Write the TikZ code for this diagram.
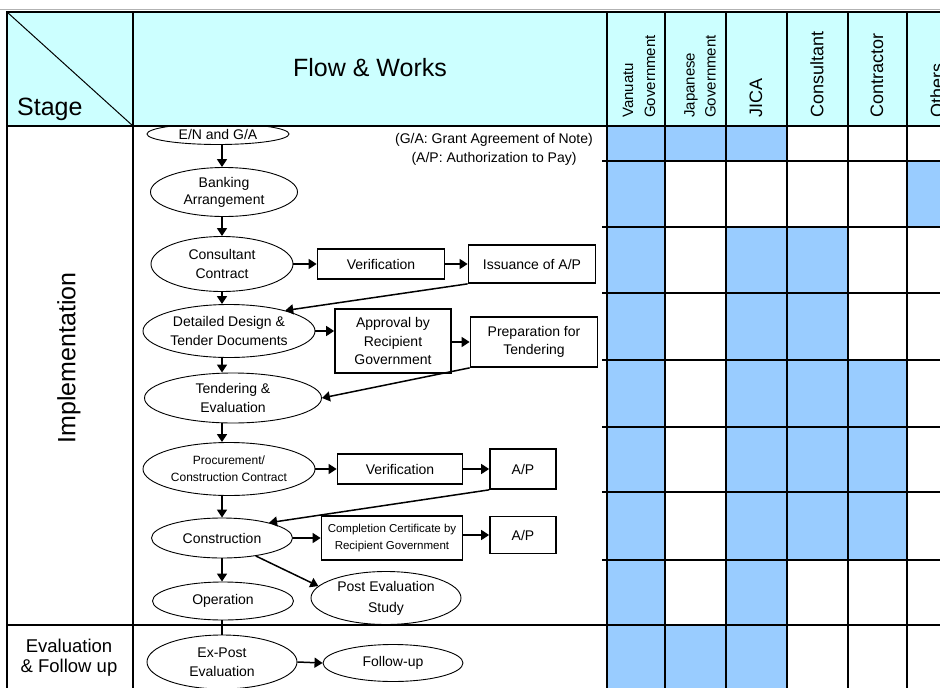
\documentclass[tikz,border=0pt]{standalone}
\usepackage{fontspec}
\setmainfont{Liberation Sans}
\usetikzlibrary{shapes.geometric,arrows.meta}
\definecolor{hdrcyan}{HTML}{CCFFFF}
\definecolor{cellblue}{HTML}{99CCFF}
\newcommand\flowfont{\fontsize{14}{18.5}\selectfont}
\newcommand\smallflow{\fontsize{12}{17}\selectfont}
\newcommand\tinyflow{\fontsize{11.5}{16.5}\selectfont}
\begin{document}
\begin{tikzpicture}[x=1pt,y=-1pt,
  ell/.style={ellipse,draw,line width=0.9pt,fill=white,inner sep=0pt,align=center,font=\flowfont},
  box/.style={rectangle,draw,line width=1.7pt,fill=white,inner sep=0pt,align=center,font=\flowfont},
  arr/.style={line width=1.5pt,-{Triangle[length=8pt,width=10pt]}},
  grid/.style={line width=1.6pt,line cap=rect},
  hdrtext/.style={inner sep=0pt,align=center},
  colhead/.style={inner sep=0pt,rotate=90,anchor=west,align=left}]
\useasboundingbox (0,0) rectangle (940,688);
\clip (0,0) rectangle (940,688);

% blue cells
\fill[cellblue] (607,126) rectangle (665,688);
\fill[cellblue] (665,126) rectangle (726,161);
\fill[cellblue] (665,625) rectangle (726,688);
\fill[cellblue] (726,126) rectangle (787,161);
\fill[cellblue] (726,227) rectangle (787,688);
\fill[cellblue] (787,227) rectangle (848,560);
\fill[cellblue] (848,360) rectangle (907,560);
\fill[cellblue] (907,161) rectangle (940,227);

% flow nodes
\coordinate (spine) at (222,300);
\node[ell,minimum width=142pt,minimum height=21pt] (en) at (218,134) {E/N and G/A};
\node[ell,minimum width=147pt,minimum height=49pt,font=\fontsize{14}{17}\selectfont] (bank) at (224,192) {Banking\\Arrangement};
\node[ell,minimum width=142pt,minimum height=55pt] (cc) at (222,264) {Consultant\\Contract};
\node[box,minimum width=127pt,minimum height=30pt] (ver1) at (381,264) {Verification};
\node[box,minimum width=127pt,minimum height=38pt] (iss) at (532,264) {Issuance of A/P};
\node[ell,minimum width=172pt,minimum height=53pt] (dd) at (229,331) {Detailed Design \&\\Tender Documents};
\node[box,minimum width=116pt,minimum height=64pt] (appr) at (393,341) {Approval by\\Recipient\\Government};
\node[box,minimum width=127pt,minimum height=50pt] (prep) at (534,342) {Preparation for\\Tendering};
\node[ell,minimum width=177pt,minimum height=50pt] (tend) at (233,398) {Tendering \&\\Evaluation};
\node[ell,minimum width=172pt,minimum height=53pt,font=\smallflow] (proc) at (229,469) {Procurement/\\Construction Contract};
\node[box,minimum width=125pt,minimum height=30pt] (ver2) at (400,469) {Verification};
\node[box,minimum width=66pt,minimum height=40pt] (ap1) at (523,469) {A/P};
\node[ell,minimum width=141pt,minimum height=40pt] (cons) at (222,538) {Construction};
\node[box,minimum width=141pt,minimum height=44pt,font=\tinyflow] (comp) at (392,538) {Completion Certificate by\\Recipient Government};
\node[box,minimum width=66pt,minimum height=37pt] (ap2) at (523,535) {A/P};
\node[ell,minimum width=141pt,minimum height=38pt] (op) at (223,601) {Operation};
\node[ell,minimum width=150pt,minimum height=53pt,font=\fontsize{14}{21}\selectfont] (post) at (386,598) {Post Evaluation\\Study};
\node[ell,minimum width=150pt,minimum height=54pt] (ex) at (222,662) {Ex-Post\\Evaluation};
\node[ell,minimum width=140pt,minimum height=37pt] (fol) at (393,663) {Follow-up};

\node[hdrtext,font=\flowfont] (note) at (494,149.5) {(G/A: Grant Agreement of Note)\\(A/P: Authorization to Pay)};

% connectors
\draw[arr] (en.south -| spine) -- (bank.north -| spine);
\draw[arr] (bank.south -| spine) -- (cc.north -| spine);
\draw[arr] (cc.south -| spine) -- (dd.north -| spine);
\draw[arr] (dd.south -| spine) -- (tend.north -| spine);
\draw[arr] (tend.south -| spine) -- (proc.north -| spine);
\draw[arr] (proc.south -| spine) -- (cons.north -| spine);
\draw[arr] (cons.south -| spine) -- (op.north -| spine);
\draw[line width=1.5pt] (op.south -| ex.north) -- (ex.north);
\draw[arr] (cc.east) -- (ver1.west);
\draw[arr] (ver1.east) -- (iss.west);
\draw[arr] (iss.south west) -- (dd.20);
\draw[arr] (dd.east) -- (dd.east -| appr.west);
\draw[arr] (appr.east |- prep.west) -- (prep.west);
\draw[arr] (prep.south west) -- (tend.east);
\draw[arr] (proc.east) -- (ver2.west);
\draw[arr] (ver2.east) -- (ap1.west);
\draw[arr] (ap1.south west) -- (cons.18);
\draw[arr] (cons.east) -- (comp.west);
\draw[arr] (comp.east |- ap2.west) -- (ap2.west);
\draw[arr] (cons.-28) -- (post.170);
\draw[arr] (ex.east) -- (fol.west);

% header fill
\fill[hdrcyan] (7,12) rectangle (940,126);

% grid
\draw[gray!60,line width=1pt] (0,9.5) -- (940,9.5);
\draw[grid] (7,12) -- (940,12);
\draw[grid] (7,126) -- (940,126);
\draw[grid] (7,625) -- (940,625);
\foreach \xx in {7,133,607,665,726,787,848,907}
  \draw[grid] (\xx,12) -- (\xx,690);
\foreach \yy in {161,227,293,360,427,492,560}
  \draw[grid] (603,\yy) -- (940,\yy);
\draw[line width=1pt] (7,12) -- (133,126);

% header texts
\node[hdrtext,anchor=base west,font=\fontsize{25}{30}\selectfont] (stage) at (17,115) {Stage};
\node[hdrtext,font=\fontsize{25}{30}\selectfont] (flow) at (370,68) {Flow \& Works};
\node[colhead,font=\fontsize{15}{22}\selectfont] (hv) at (639,118) {Vanuatu\\Government};
\node[colhead,font=\fontsize{15}{21}\selectfont] (hj) at (700,118) {Japanese\\Government};
\node[colhead,font=\fontsize{18}{22}\selectfont] (hjica) at (756,118) {JICA};
\node[colhead,font=\fontsize{18}{22}\selectfont] (hcons) at (817,118) {Consultant};
\node[colhead,font=\fontsize{18}{22}\selectfont] (hcontr) at (877,118) {Contractor};
\node[colhead,font=\fontsize{18}{22}\selectfont] (hoth) at (937,118) {Others};

% stage texts
\node[hdrtext,rotate=90,font=\fontsize{25}{30}\selectfont] (impl) at (69,358) {Implementation};
\node[hdrtext,font=\fontsize{18.5}{20}\selectfont] (evalfu) at (69,658) {Evaluation\\\& Follow up};
\end{tikzpicture}
\end{document}
